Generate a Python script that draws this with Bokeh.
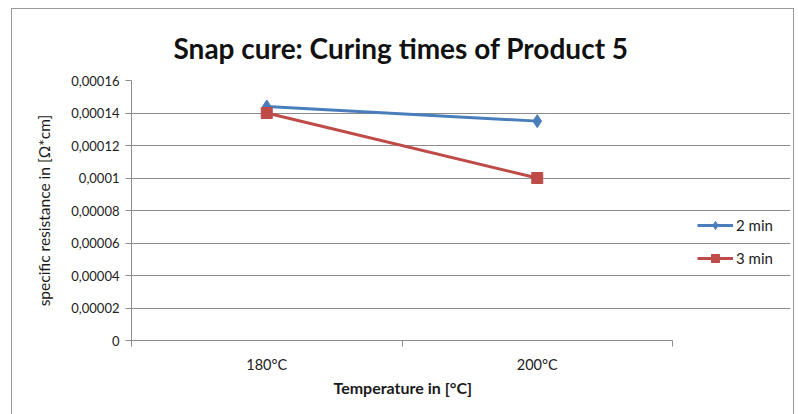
from bokeh.plotting import figure
from bokeh.models import (FixedTicker, CustomJSTickFormatter, Legend, LegendItem,
                          Range1d, InlineStyleSheet, Title)
from bokeh.embed import file_html
from bokeh.resources import INLINE

# Data
categories = ["180°C", "200°C"]
series_names = ["2 min", "3 min"]
values_2min = [0.000144, 0.000135]
values_3min = [0.00014, 0.0001]
y_ticks = [0, 0.00002, 0.00004, 0.00006, 0.00008, 0.0001, 0.00012, 0.00014, 0.00016]

BLUE = "#4a7ebb"
RED = "#be4b48"
GRID = "#8c8c8c"
FONT = "Lato"

n = len(categories)
x_pos = [i + 0.5 for i in range(n)]
y_max = y_ticks[-1]

# Layout: the frame runs on to the right so that the legend can sit beside
# the plot; axis and grid are bounded to the category span.
W, H = 798, 414
LEFT, TOP, BOTTOM, RIGHT = 131, 80, 74, 8
PLOT_W = 541
frame_w = W - LEFT - RIGHT
x_end = n * frame_w / PLOT_W

# Thin grey border around the whole chart area
frame_css = InlineStyleSheet(css="""
:host::after {
  content: "";
  position: absolute;
  left: 11px; top: 8px; right: 4px; bottom: 0px;
  border: 1.5px solid #9a9a9a;
  border-bottom: none;
  pointer-events: none;
}
""")

p = figure(width=W, height=H, output_backend="svg", toolbar_location=None,
           x_range=Range1d(0, x_end), y_range=Range1d(0, y_max),
           min_border_left=LEFT, min_border_right=RIGHT, min_border_top=TOP,
           min_border_bottom=BOTTOM, stylesheets=[frame_css])
p.outline_line_color = None
p.background_fill_color = "white"
p.border_fill_color = "white"

# Title, left-anchored so that it sits over the category span
p.title = Title(text="Snap cure: Curing times of Product 5", align="left",
                offset=42, standoff=31, text_font=FONT, text_font_style="bold",
                text_font_size="28px", text_color="#111111")

# X axis: labels centred in categories, tick marks on category boundaries
xa = p.xaxis[0]
xa.bounds = (0, n)
xa.ticker = FixedTicker(ticks=x_pos, minor_ticks=list(range(n + 1)))
xa.major_label_overrides = {x: c for x, c in zip(x_pos, categories)}
xa.major_tick_line_color = None
xa.minor_tick_in = 0
xa.minor_tick_out = 6
xa.minor_tick_line_color = GRID
xa.axis_line_color = GRID
xa.major_label_text_font = FONT
xa.major_label_text_font_size = "14.5px"
xa.major_label_text_color = "#222222"
xa.major_label_standoff = 9

p.add_layout(Title(text="Temperature in [°C]", align="left", offset=202,
                   standoff=1, text_font=FONT, text_font_style="bold",
                   text_font_size="16px", text_color="#1a1a1a"), "below")

# Y axis with comma decimal separators
ya = p.yaxis[0]
ya.bounds = (0, y_max)
ya.ticker = FixedTicker(ticks=y_ticks)
ya.formatter = CustomJSTickFormatter(code="""
    let s = tick.toFixed(5).replace(/0+$/, '').replace(/\\.$/, '');
    return s.replace('.', ',');
""")
ya.minor_tick_line_color = None
ya.major_tick_in = 0
ya.major_tick_out = 6
ya.major_tick_line_color = GRID
ya.axis_line_color = GRID
ya.axis_label = "specific resistance in [Ω*cm]"
ya.axis_label_text_font = FONT
ya.axis_label_text_font_style = "normal"
ya.axis_label_text_font_size = "15.5px"
ya.axis_label_text_color = "#1a1a1a"
ya.axis_label_standoff = 15
ya.major_label_text_font = FONT
ya.major_label_text_font_size = "13px"
ya.major_label_text_color = "#222222"
ya.major_label_standoff = 6

p.xgrid.grid_line_color = None
p.ygrid.grid_line_color = GRID
p.ygrid.grid_line_width = 1
p.ygrid.bounds = (0, n)

# Series
l1 = p.line(x_pos, values_2min, line_color=BLUE, line_width=3)
m1 = p.scatter(x_pos, values_2min, marker="diamond", size=13, fill_color=BLUE,
               line_color=BLUE)
l2 = p.line(x_pos, values_3min, line_color=RED, line_width=3)
m2 = p.scatter(x_pos, values_3min, marker="square", size=11, fill_color=RED,
               line_color=RED)

legend = Legend(items=[LegendItem(label=series_names[0], renderers=[l1, m1]),
                       LegendItem(label=series_names[1], renderers=[l2, m2])],
                location=(566, 72), orientation="vertical",
                glyph_width=36, glyph_height=20, label_height=20,
                label_standoff=3, spacing=13, padding=0, margin=0,
                border_line_color=None, background_fill_alpha=0,
                label_text_font=FONT, label_text_font_size="15px",
                label_text_color="#222222")
p.add_layout(legend, "center")

open("out.html", "w").write(file_html(p, INLINE))
